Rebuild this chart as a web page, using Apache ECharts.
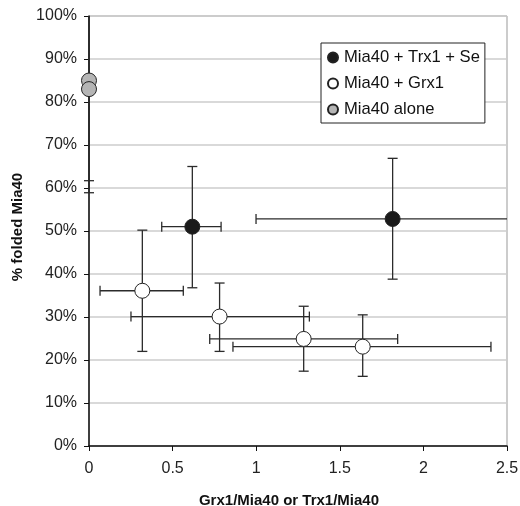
<!DOCTYPE html>
<html>
<head>
<meta charset="utf-8">
<script src="https://cdn.jsdelivr.net/npm/echarts@6/dist/echarts.min.js"></script>
<style>
  html, body { margin: 0; padding: 0; background: #fff; }
  #chart { width: 520px; height: 506px; }
</style>
</head>
<body>
<div id="chart"></div>
<script>
// values (y in %)
const xTicks = [0, 0.5, 1, 1.5, 2, 2.5];
const yTicks = [0, 10, 20, 30, 40, 50, 60, 70, 80, 90, 100];

const seriesNames = ["Mia40 + Trx1 + Se", "Mia40 + Grx1", "Mia40 alone"];

const trxX = [0.618, 1.816];
const trxY = [51.0, 52.8];
const trxXLow = [0.435, 0.999];
const trxXHigh = [0.79, 2.633];
const trxYLow = [36.8, 38.8];
const trxYHigh = [65.0, 66.9];

const grxX = [0.319, 0.781, 1.284, 1.637];
const grxY = [36.1, 30.1, 24.9, 23.1];
const grxXLow = [0.066, 0.251, 0.722, 0.861];
const grxXHigh = [0.564, 1.318, 1.846, 2.404];
const grxYLow = [22.0, 22.0, 17.4, 16.2];
const grxYHigh = [50.2, 37.9, 32.5, 30.5];

const aloneX = [0, 0];
const aloneY = [85.0, 83.0];
const aloneXLow = [0, 0];
const aloneXHigh = [0, 0];
const aloneYLow = [61.7, 58.9];
const aloneYHigh = [108.3, 107.1];

const fillColors = ["#1a1a1a", "#ffffff", "#b5b5b5"];

function rows(xs, ys, xl, xh, yl, yh) {
  return xs.map((x, i) => [x, ys[i], xl[i], xh[i], yl[i], yh[i]]);
}
const groups = [
  rows(trxX, trxY, trxXLow, trxXHigh, trxYLow, trxYHigh),
  rows(grxX, grxY, grxXLow, grxXHigh, grxYLow, grxYHigh),
  rows(aloneX, aloneY, aloneXLow, aloneXHigh, aloneYLow, aloneYHigh),
];

const X_MIN = xTicks[0], X_MAX = xTicks[xTicks.length - 1];
const Y_MIN = yTicks[0], Y_MAX = yTicks[yTicks.length - 1];
const CAP = 5;

function errorBars(params, api) {
  const x = api.value(0), y = api.value(1);
  const xl = api.value(2), xh = api.value(3);
  const yl = api.value(4), yh = api.value(5);
  const style = { stroke: "#2b2b2b", lineWidth: 1.3 };
  const children = [];
  const line = (p1, p2) => children.push({
    type: "line",
    shape: { x1: p1[0], y1: p1[1], x2: p2[0], y2: p2[1] },
    style,
  });
  // vertical bar, cut at the plot edge (no cap there)
  if (yh > yl) {
    const top = api.coord([x, Math.min(yh, Y_MAX)]);
    const bot = api.coord([x, Math.max(yl, Y_MIN)]);
    line(top, bot);
    if (yh <= Y_MAX) line([top[0] - CAP, top[1]], [top[0] + CAP, top[1]]);
    if (yl >= Y_MIN) line([bot[0] - CAP, bot[1]], [bot[0] + CAP, bot[1]]);
  }
  // horizontal bar
  if (xh > xl) {
    const l = api.coord([Math.max(xl, X_MIN), y]);
    const r = api.coord([Math.min(xh, X_MAX), y]);
    line(l, r);
    if (xl >= X_MIN) line([l[0], l[1] - CAP], [l[0], l[1] + CAP]);
    if (xh <= X_MAX) line([r[0], r[1] - CAP], [r[0], r[1] + CAP]);
  }
  return { type: "group", children };
}

const series = [];
groups.forEach((data, i) => {
  series.push({
    name: seriesNames[i] + "-err",
    type: "custom",
    renderItem: errorBars,
    data,
    encode: { x: 0, y: 1 },
    z: 2,
    silent: true,
  });
});
groups.forEach((data, i) => {
  series.push({
    name: seriesNames[i],
    type: "scatter",
    data: data.map((d) => [d[0], d[1]]),
    symbol: "circle",
    symbolSize: 15,
    itemStyle: { color: fillColors[i], borderColor: "#222", borderWidth: 1, opacity: 1 },
    z: 3,
  });
});

const chart = echarts.init(document.getElementById("chart"));
chart.setOption({
  animation: false,
  textStyle: { fontFamily: "Liberation Sans, Arial, sans-serif" },
  grid: {
    left: 89, right: 13, top: 16, bottom: 60,
    outerBoundsMode: "none",
    containLabel: false,
    show: true, borderColor: "#999", borderWidth: 1,
  },
  legend: {
    data: seriesNames,
    orient: "vertical",
    left: 321, top: 43,
    padding: [6, 5, 5, 6],
    itemGap: 9,
    itemWidth: 10, itemHeight: 10,
    icon: "circle",
    borderColor: "#222", borderWidth: 1,
    backgroundColor: "#fff",
    textStyle: { fontSize: 16.6, color: "#111", padding: [0, 0, 0, 1] },
  },
  xAxis: {
    type: "value",
    min: X_MIN, max: X_MAX, interval: 0.5,
    name: "Grx1/Mia40 or Trx1/Mia40",
    nameLocation: "middle",
    nameGap: 47,
    nameTextStyle: { fontSize: 15, fontWeight: "bold", color: "#111", padding: [0, 18, 0, 0] },
    axisLine: { lineStyle: { color: "#111", width: 1.5 } },
    axisTick: { show: true, length: 5, lineStyle: { color: "#111" } },
    axisLabel: { fontSize: 16, color: "#222", margin: 15 },
    splitLine: { show: false },
  },
  yAxis: {
    type: "value",
    min: Y_MIN, max: Y_MAX, interval: 10,
    name: "% folded Mia40",
    nameLocation: "middle",
    nameGap: 60,
    nameTextStyle: { fontSize: 15, fontWeight: "bold", color: "#111", padding: [0, 0, 0, 8] },
    axisLine: { show: true, lineStyle: { color: "#111", width: 1.5 } },
    axisTick: { show: true, length: 5, lineStyle: { color: "#111" } },
    axisLabel: { fontSize: 16, color: "#222", margin: 12, formatter: "{value}%" },
    splitLine: { show: true, lineStyle: { color: "#cdcdcd", width: 1.5 } },
  },
  series,
});
</script>
</body>
</html>
